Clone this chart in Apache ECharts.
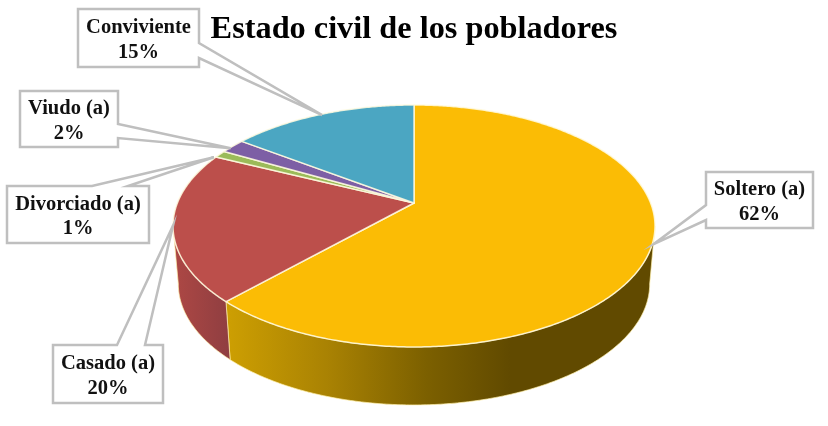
<!DOCTYPE html>
<html><head><meta charset="utf-8">
<style>html,body{margin:0;padding:0;background:#fff}#c{width:828px;height:426px}</style>
<script src="https://cdn.jsdelivr.net/npm/echarts@6/dist/echarts.min.js"></script>
</head><body><div id="c"></div>
<script>
const chartTitle = 'Estado civil de los pobladores';
const categories = ['Soltero (a)', 'Casado (a)', 'Divorciado (a)', 'Viudo (a)', 'Conviviente'];
const percents = [62, 20, 1, 2, 15];
const topColors = ['#FBBC05', '#BC4F4B', '#9BBB59', '#7D5FA5', '#4BA6C2'];

// layout of the tilted pie (a projected circle)
const P = {cx: 414, cy: 203, rx: 236.6, ry: 116.6, persp: 0.19, depth: 58, bottomScale: 0.978,
  frontStart: 101 * Math.PI / 180, frontEnd: 259 * Math.PI / 180};
// callout layout: box x0,y0,x1,y1; side the tail leaves from; tail base offsets; small tip nudge
const calloutLayout = [
  {box: [706, 172, 813, 228], side: 'left', tail: [205, 220], nudge: [3, -5]},
  {box: [53, 345, 163, 403], side: 'top', tail: [117, 145], nudge: [0, 0]},
  {box: [7, 186, 149, 243], side: 'top', tail: [92, 128], nudge: [-6, 3]},
  {box: [20, 91, 118, 147], side: 'right', tail: [124, 138], nudge: [-2, 2]},
  {box: [78, 9, 199, 67], side: 'right', tail: [43, 58], nudge: [0, 1]}
];

const total = percents.reduce((a, b) => a + b, 0);
const starts = [];
percents.reduce((acc, v, i) => { starts[i] = acc; return acc + v; }, 0);
const toAngle = p => p / total * 2 * Math.PI;

function rim(a) {
  const u = Math.sin(a), v = -Math.cos(a), w = 1 - P.persp * v;
  return [P.cx + P.rx * u / w, P.cy + P.ry * v / w];
}
function rimLow(a) {
  const p = rim(a);
  return [P.cx + (p[0] - P.cx) * P.bottomScale, p[1] + P.depth];
}
function arc(fn, a0, a1) {
  const n = Math.max(2, Math.ceil((a1 - a0) / 0.01)), pts = [];
  for (let i = 0; i <= n; i++) pts.push(fn(a0 + (a1 - a0) * i / n));
  return pts;
}
const wallFills = [
  new echarts.graphic.LinearGradient(230, 0, 510, 0, [
    {offset: 0, color: '#CC9E02'}, {offset: 0.35, color: '#A98203'},
    {offset: 0.7, color: '#7C6000'}, {offset: 1, color: '#614A00'}], true),
  new echarts.graphic.LinearGradient(178, 0, 230, 0, [
    {offset: 0, color: '#AB4744'}, {offset: 1, color: '#8F3E41'}], true),
  '#7A9146', '#5F4880', '#39829A'
];
const sliceIndex = percents.map((v, i) => [i]);

function renderWall(params, api) {
  const i = api.value(0);
  const a0 = Math.max(toAngle(starts[i]), P.frontStart);
  const a1 = Math.min(toAngle(starts[i] + percents[i]), P.frontEnd);
  if (a1 <= a0) return null;
  const pts = arc(rim, a0, a1).concat(arc(rimLow, a0, a1).reverse());
  return {type: 'polygon', shape: {points: pts},
    style: {fill: wallFills[i], stroke: 'rgba(255,240,170,0.7)', lineWidth: 1}};
}
function renderTop(params, api) {
  const i = api.value(0);
  const a0 = toAngle(starts[i]), a1 = toAngle(starts[i] + percents[i]);
  const pts = [[P.cx, P.cy]].concat(arc(rim, a0, a1));
  return {type: 'polygon', shape: {points: pts},
    style: {fill: topColors[i], stroke: 'rgba(255,250,225,0.85)', lineWidth: 1.5, lineJoin: 'round'}};
}
function renderCallout(params, api) {
  const i = api.value(0), c = calloutLayout[i], b = c.box;
  const r = rim(toAngle(starts[i] + percents[i] / 2));
  const tip = [r[0] + c.nudge[0], r[1] + c.nudge[1]];
  let pts;
  if (c.side === 'left') pts = [[b[0], b[1]], [b[2], b[1]], [b[2], b[3]], [b[0], b[3]], [b[0], c.tail[1]], tip, [b[0], c.tail[0]]];
  else if (c.side === 'right') pts = [[b[0], b[1]], [b[2], b[1]], [b[2], c.tail[0]], tip, [b[2], c.tail[1]], [b[2], b[3]], [b[0], b[3]]];
  else pts = [[b[0], b[1]], [c.tail[0], b[1]], tip, [c.tail[1], b[1]], [b[2], b[1]], [b[2], b[3]], [b[0], b[3]]];
  return {type: 'group', children: [
    {type: 'polygon', shape: {points: pts}, style: {fill: '#fff', stroke: '#BFBFBF', lineWidth: 2.5}},
    {type: 'text', style: {
      text: categories[i] + '\n' + percents[i] + '%',
      x: (b[0] + b[2]) / 2, y: (b[1] + b[3]) / 2 + 2,
      align: 'center', verticalAlign: 'middle', lineHeight: 24.5,
      font: 'bold 20.5px "Liberation Serif"', fill: '#111'}}
  ]};
}
const chart = echarts.init(document.getElementById('c'));
chart.setOption({
  animation: false,
  backgroundColor: '#fff',
  title: {text: chartTitle, left: 'center', top: 9,
    textStyle: {fontFamily: 'Liberation Serif', fontWeight: 'bold', fontSize: 32.3, color: '#000'}},
  series: [
    {type: 'custom', coordinateSystem: 'none', data: sliceIndex, renderItem: renderWall, z: 1, silent: true},
    {type: 'custom', coordinateSystem: 'none', data: sliceIndex, renderItem: renderTop, z: 2, silent: true},
    {type: 'custom', coordinateSystem: 'none', data: sliceIndex, renderItem: renderCallout, z: 3, silent: true}
  ]
});
</script></body></html>
